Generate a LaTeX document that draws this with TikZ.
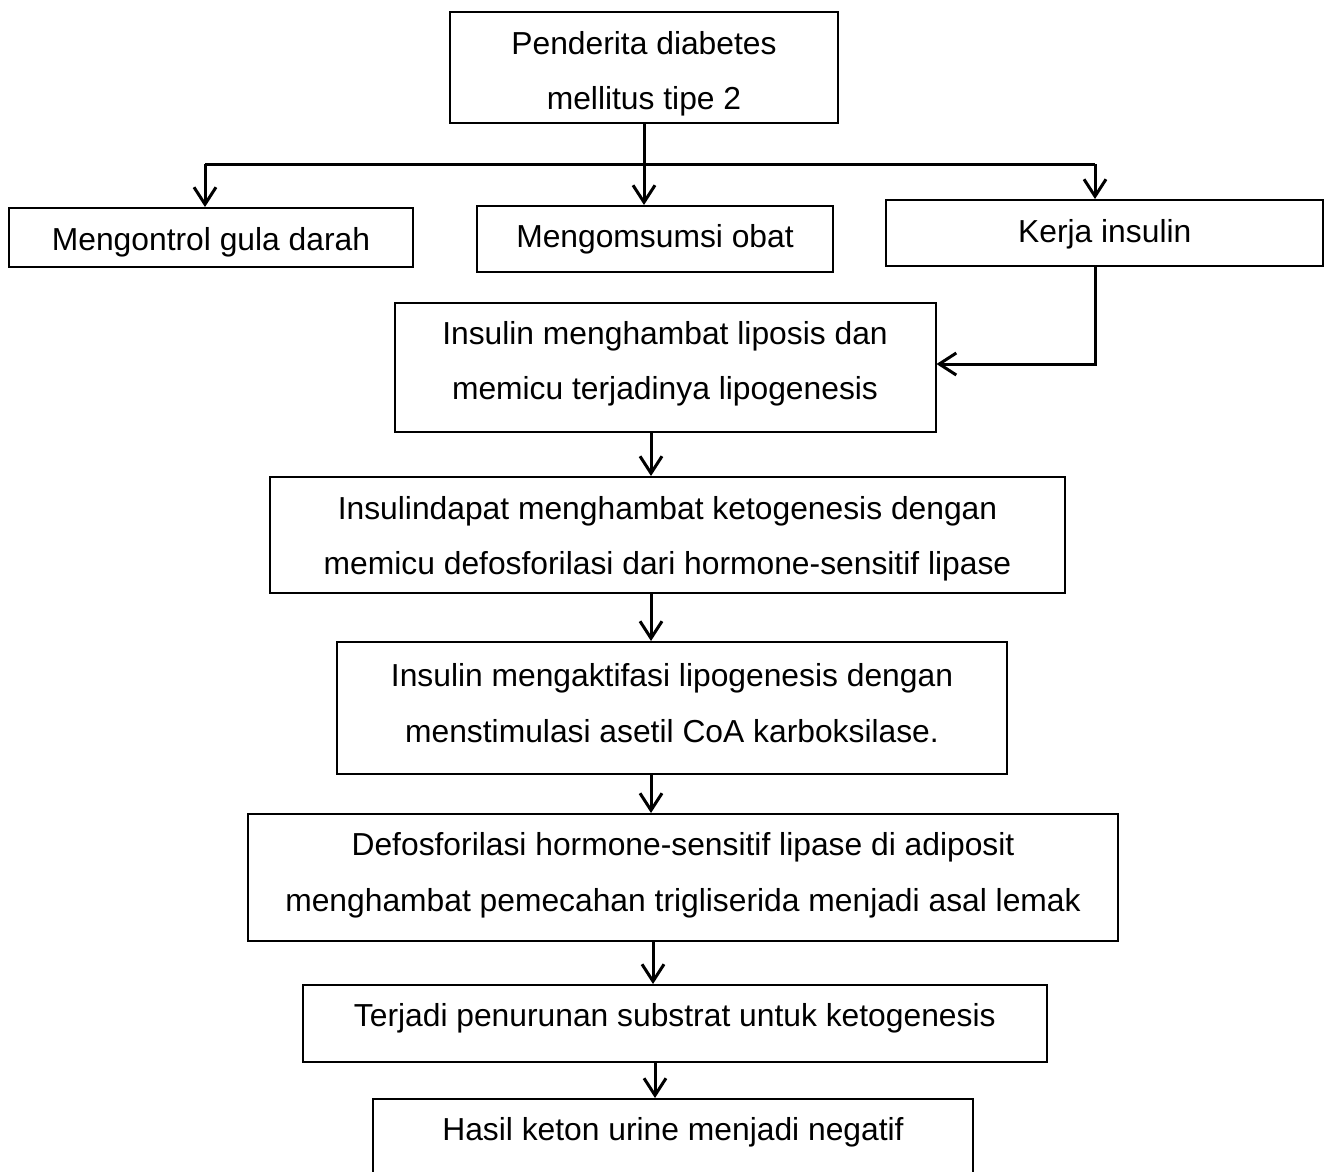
\documentclass[tikz,border=0pt]{standalone}
\usepackage{fontspec}
\setmainfont{Liberation Sans}
\usetikzlibrary{arrows.meta}
\tikzset{
  boxnode/.style={draw=black, line width=2pt, rectangle, inner sep=0pt},
  txtnode/.style={inner sep=0pt, align=center, font=\fontsize{31.8}{55.5}\selectfont},
  conn/.style={line width=3pt, -{Straight Barb[length=17pt,width=22pt,line width=3pt]}},
  plain/.style={line width=3pt},
}
\begin{document}
\begin{tikzpicture}[x=1pt,y=-1pt]
\clip (0,0) rectangle (1331,1171);
\fill[white] (0,0) rectangle (1331,1171);

% boxes
\node[boxnode, minimum width=388pt, minimum height=111pt] (top) at (644,67) {};
\node[boxnode, minimum width=404pt, minimum height=59pt] (left) at (211,237.5) {};
\node[boxnode, minimum width=356pt, minimum height=66pt] (mid) at (655,239) {};
\node[boxnode, minimum width=437pt, minimum height=66pt] (kerja) at (1104.75,233) {};
\node[boxnode, minimum width=541pt, minimum height=129pt] (b2) at (665,367.5) {};
\node[boxnode, minimum width=795pt, minimum height=116pt] (b3) at (667.5,535) {};
\node[boxnode, minimum width=670pt, minimum height=132pt] (b4) at (672,708) {};
\node[boxnode, minimum width=870pt, minimum height=127pt] (b5) at (683,877.5) {};
\node[boxnode, minimum width=744pt, minimum height=77pt] (b6) at (674.75,1023.5) {};
\node[boxnode, minimum width=600pt, minimum height=90pt] (b7) at (673,1144) {};

% texts
\node[txtnode] (topt) at (644,74) {Penderita diabetes\\mellitus tipe 2};
\node[txtnode] (leftt) at (211,242.5) {Mengontrol gula darah};
\node[txtnode] (midt) at (655,239.5) {Mengomsumsi obat};
\node[txtnode] (kerjat) at (1104.75,234) {Kerja insulin};
\node[txtnode] (b2t) at (665,364) {Insulin menghambat liposis dan\\memicu terjadinya lipogenesis};
\node[txtnode] (b3t) at (667.5,539) {Insulindapat menghambat ketogenesis dengan\\memicu defosforilasi dari hormone-sensitif lipase};
\node[txtnode] (b4t) at (672,703) {Insulin mengaktifasi lipogenesis dengan\\menstimulasi asetil CoA karboksilase.};
\node[txtnode] (b5t) at (683,875.5) {Defosforilasi hormone-sensitif lipase di adiposit\\menghambat pemecahan trigliserida menjadi asal lemak};
\node[txtnode] (b6t) at (674.75,1018) {Terjadi penurunan substrat untuk ketogenesis};
\node[txtnode] (b7t) at (673,1132.5) {Hasil keton urine menjadi negatif};

% connectors
\coordinate (jl) at (205,164);
\coordinate (jr) at (1095,164);
\coordinate (jm) at (644,164);
\coordinate (k) at (1095,364);
\coordinate (ax) at (651,0);

\draw[plain] (top.south) -- (jm);
\draw[plain] (jl) -- (jr);
\draw[conn] (jl) -- (jl |- left.north);
\draw[conn] (jm) -- (jm |- mid.north);
\draw[conn] (jr) -- (jr |- kerja.north);
\draw[conn] (jr |- kerja.south) -- (k) -- (k -| b2.east);
\draw[conn] (b2.south -| ax) -- (b3.north -| ax);
\draw[conn] (b3.south -| ax) -- (b4.north -| ax);
\draw[conn] (b4.south -| ax) -- (b5.north -| ax);
\draw[conn] ([xshift=2pt]b5.south -| ax) -- ([xshift=2pt]b6.north -| ax);
\draw[conn] ([xshift=4pt]b6.south -| ax) -- ([xshift=4pt]b7.north -| ax);
\end{tikzpicture}
\end{document}
